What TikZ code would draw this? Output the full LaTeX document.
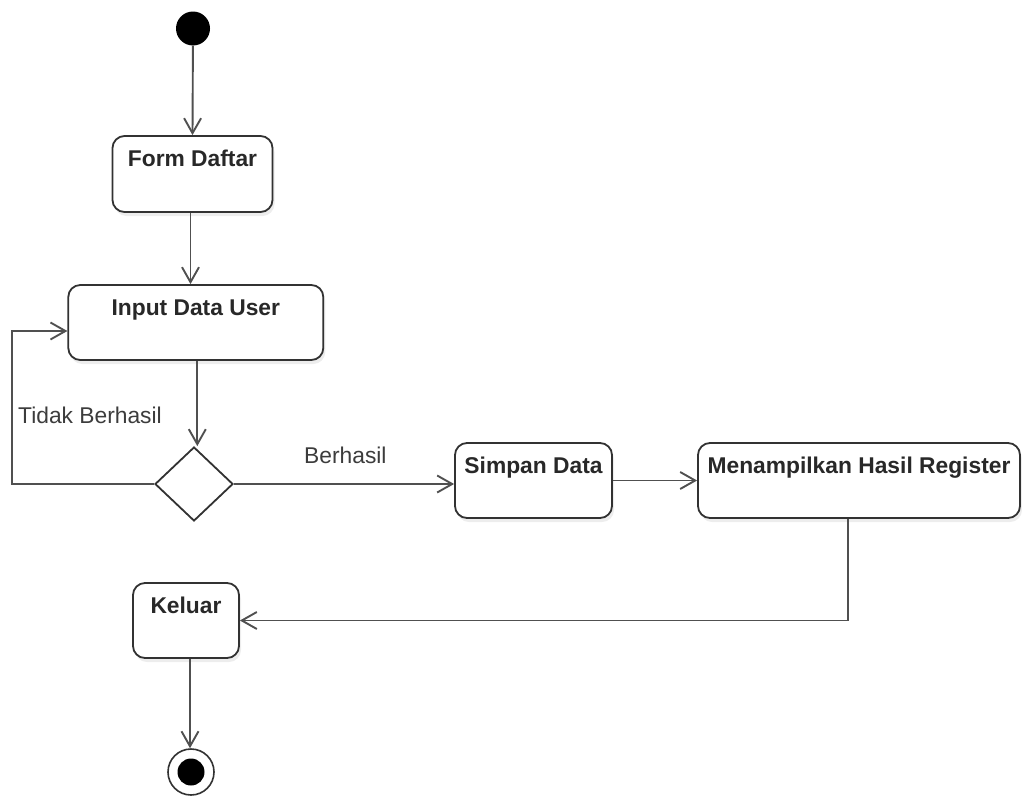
\documentclass[tikz,border=0pt]{standalone}
\usepackage{fontspec}
\setmainfont{Liberation Sans}
\usetikzlibrary{arrows.meta,shapes.geometric,shadows,calc}

\definecolor{edgec}{RGB}{80,80,80}
\definecolor{borderc}{RGB}{50,50,50}
\definecolor{textc}{RGB}{40,40,40}
\definecolor{labelc}{RGB}{60,60,60}

\tikzset{
  act/.style={draw=borderc, line width=1.8pt, rounded corners=12pt, fill=white,
    inner sep=0pt, drop shadow={shadow xshift=2pt, shadow yshift=-4pt, fill=black!14}},
  actlbl/.style={anchor=base, yshift=-31.5pt, inner sep=0pt, text=textc,
    font=\fontsize{22.8}{27}\selectfont\bfseries},
  flow/.style={draw=edgec, line width=1.9pt, -{Straight Barb[length=15pt,width=17pt,line width=1.9pt]}},
  guard/.style={anchor=base west, inner sep=0pt, text=labelc,
    font=\fontsize{22.8}{27}\selectfont},
}

\begin{document}
\begin{tikzpicture}[x=1pt, y=-1pt]
  \useasboundingbox (0,0) rectangle (1022,798);

  % initial and final states
  \node[circle, fill=black, minimum size=34pt, inner sep=0pt] (start) at (193,28.5) {};
  \node[circle, draw=borderc, line width=1.6pt, fill=white, minimum size=46pt, inner sep=0pt] (stop) at (191,772) {};
  \fill[black] (stop.center) circle (13.5pt);

  % activities
  \node[act, minimum width=160pt, minimum height=76pt,
        label={[actlbl]north:Form Daftar}] (form) at (192.5,174) {};
  \node[act, minimum width=255pt, minimum height=75pt,
        label={[actlbl]north:Input Data User}] (input) at (195.8,322.5) {};
  \node[act, minimum width=157pt, minimum height=75pt,
        label={[actlbl]north:Simpan Data}] (simpan) at (533.5,480.5) {};
  \node[act, minimum width=322pt, minimum height=75pt,
        label={[actlbl]north:Menampilkan Hasil Register}] (hasil) at (859,480.5) {};
  \node[act, minimum width=106pt, minimum height=75pt,
        label={[actlbl]north:Keluar}] (keluar) at (186,620.5) {};

  % decision
  \node[diamond, draw=borderc, line width=1.8pt, fill=white, inner sep=0pt,
        minimum width=78pt, minimum height=74pt] (dec) at (194,484) {};

  % attachment points of the flows
  \coordinate (loopx) at (12,0);
  \coordinate (formout) at ($(form.south)+(-2,0)$);
  \coordinate (inputout) at ($(input.south)+(1.5,0)$);
  \coordinate (inputin) at ($(input.west)+(0,8.5)$);
  \coordinate (hasilout) at ($(hasil.south)+(-11,0)$);
  \coordinate (keluarout) at ($(keluar.south)+(4,0)$);

  % control flows
  \draw[flow] (start) -- (form.north);
  \draw[flow] (formout) -- (formout |- input.north);
  \draw[flow] (inputout) -- (inputout |- dec.north);
  \draw[flow] (dec.west) -- (dec.west -| loopx) |- (inputin);
  \draw[flow] (dec.east) -- (dec.east -| simpan.west);
  \draw[flow] (simpan.east) -- (hasil.west);
  \draw[flow] (hasilout) |- (keluar.east);
  \draw[flow] (keluarout) -- (keluarout |- stop.north);

  % guards
  \node[guard] (gfail) at (18,423) {Tidak Berhasil};
  \node[guard] (gok) at (304,463) {Berhasil};
\end{tikzpicture}
\end{document}
